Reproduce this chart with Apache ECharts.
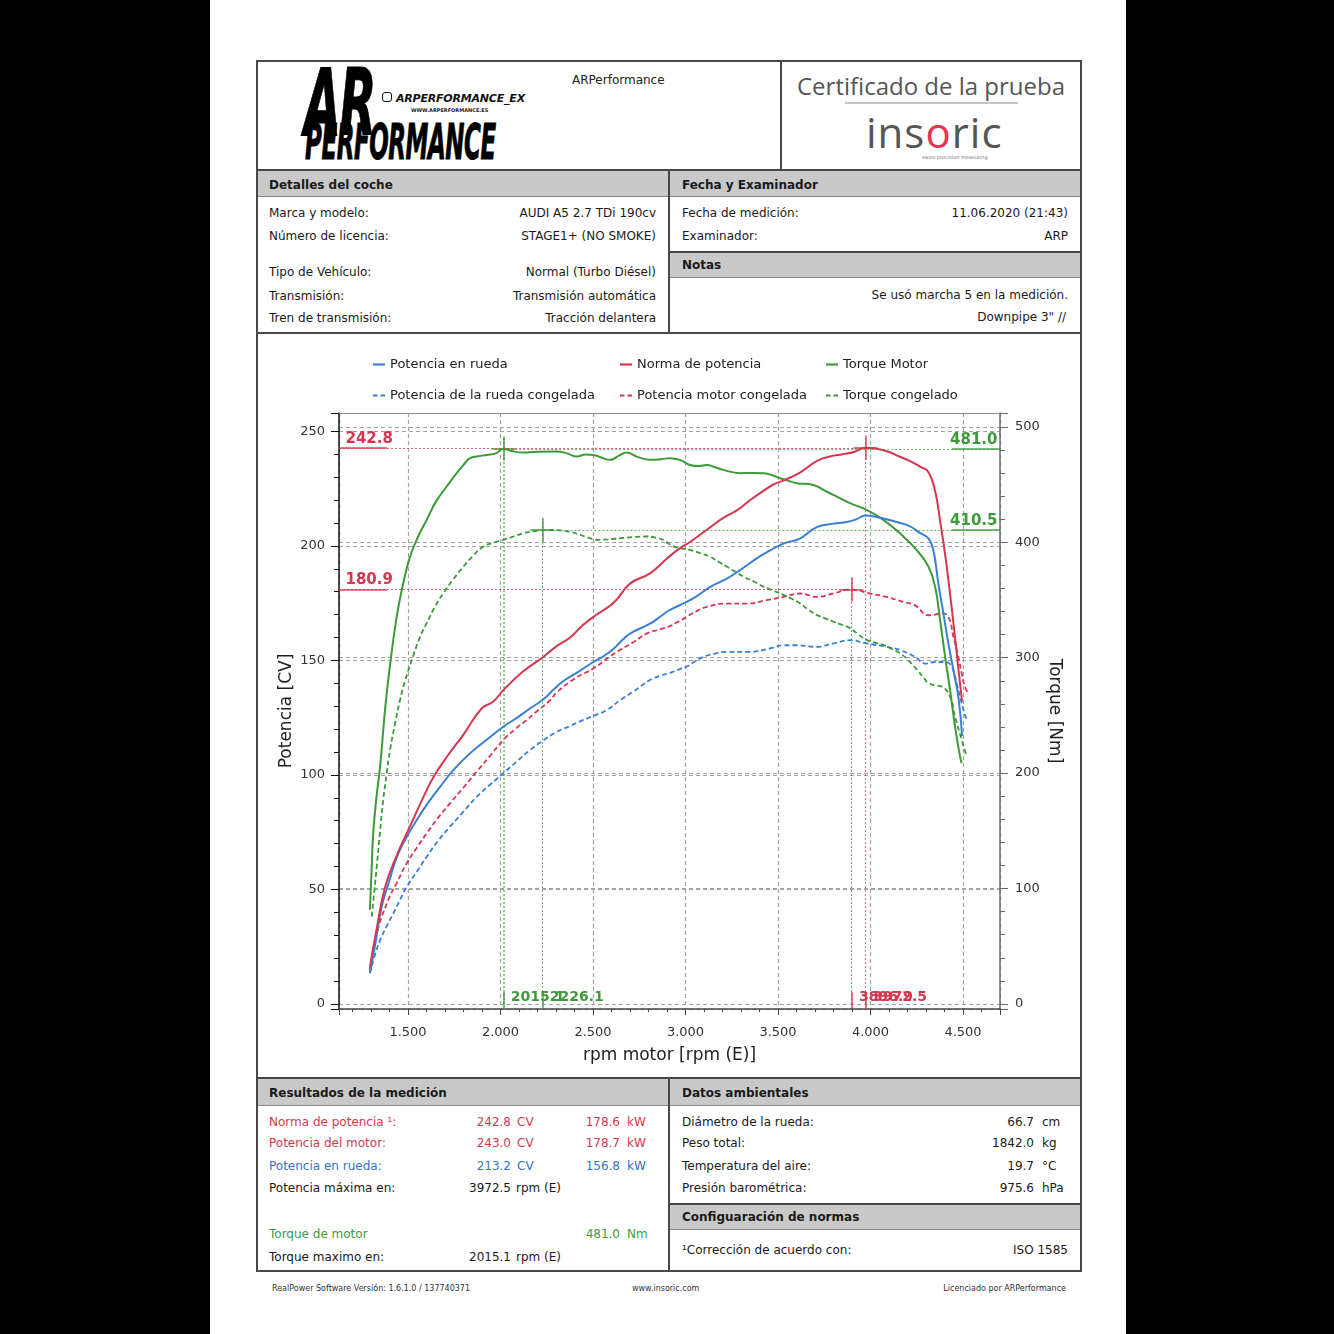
<!DOCTYPE html>
<html><head><meta charset="utf-8">
<script src="https://cdn.jsdelivr.net/npm/echarts@6/dist/echarts.min.js"></script>
<style>
html,body{margin:0;padding:0;}
body{width:1334px;height:1334px;background:#000;position:relative;overflow:hidden;font-family:"DejaVu Sans",Verdana,sans-serif;}
#page{position:absolute;left:210px;top:0;width:916px;height:1334px;background:#fff;}
.t{position:absolute;white-space:nowrap;font-size:12px;line-height:16px;color:#1a1a1a;}
.r{position:absolute;}
#chart{position:absolute;left:0;top:0;width:1334px;height:1334px;}
</style>
</head><body>
<div id="page"></div>
<div id="chart"></div>
<script>
// ---------------- DATA ----------------
const seriesNames = ['Potencia en rueda','Norma de potencia','Torque Motor','Potencia de la rueda congelada','Potencia motor congelada','Torque congelado'];
// [rpm, CV]
const wheelPower = [[1294,13.4],[1325,27],[1358,42.5],[1400,54],[1439,64],[1490,72.5],[1547,80.3],[1610,88],[1673,94.8],[1750,102.5],[1835,109.4],[1920,115],[2015,121],[2090,125],[2159,129],[2232,133],[2290,137.5],[2340,141],[2420,145],[2502,149.3],[2560,152],[2610,155],[2660,159],[2700,161.7],[2808,166],[2870,169.5],[2916,172],[3006,175.5],[3070,178.5],[3132,182],[3223,185.7],[3295,189.4],[3385,194.5],[3457,198],[3529,201],[3619,203.2],[3709,208.2],[3799,209.7],[3871,210.4],[3920,211.5],[3972.5,213.2],[4033,212.6],[4090,211.5],[4141,210.4],[4214,208.5],[4260,206],[4313,203.3],[4340,198],[4367,183.5],[4394,170.5],[4421,157.4],[4448,145.8],[4475,134],[4495,117]];
const normPower = [[1294,16],[1331,33],[1376,51],[1440,65],[1502,76],[1570,88],[1637,99],[1720,109],[1799,117.5],[1898,129],[1961,132],[2015,137],[2120,145],[2231,151.5],[2300,156],[2376,160],[2440,165],[2502,169],[2610,175],[2700,183.5],[2808,188],[2900,194.5],[2970,199],[3024,201.7],[3132,208],[3200,212],[3277,215.5],[3350,220],[3421,224],[3480,227],[3529,228.5],[3619,232],[3709,237],[3781,239],[3850,240],[3910,241],[3972.5,242.8],[4033,242.4],[4100,241],[4141,239.5],[4214,237],[4270,234.5],[4311,232.5],[4349,224],[4376,211],[4403,196.5],[4430,179],[4457,160],[4475,146.5],[4495,132]];
// [rpm, Nm]
const engineTorque = [[1294,81.5],[1303,115],[1312,148],[1330,180],[1349,205.6],[1376,255],[1400,290],[1439,335.6],[1475,365],[1511,387.6],[1555,405],[1601,419.4],[1650,435],[1709,448.3],[1763,460],[1800,467],[1835,473],[1880,474.5],[1925,475.7],[1975,477],[2015.1,481],[2060,479],[2123,477.7],[2200,478.5],[2304,478.6],[2360,477],[2412,474.3],[2460,476],[2502,475.7],[2550,473],[2592,471.4],[2640,475],[2682,477.7],[2740,474],[2808,471.4],[2870,472],[2916,472.9],[2970,471.4],[3024,467],[3070,466],[3115,467],[3160,465],[3204,462.7],[3295,459.9],[3360,460],[3421,459.9],[3470,458],[3511,455.5],[3560,453],[3601,451.2],[3691,449.7],[3750,445],[3799,441],[3889,433.9],[3979,428],[4069,419.4],[4159,407.9],[4249,393.4],[4313,379],[4349,361.6],[4376,332.8],[4403,301],[4430,272],[4457,240.3],[4484,214.3],[4493,208.6]];
const wheelPowerFrozen = [[1294,13.5],[1320,21],[1349,27.9],[1385,34],[1421,39.6],[1460,46],[1493,51.2],[1550,58],[1601,64.3],[1660,71],[1727,77.4],[1800,84],[1871,90.4],[1940,95.5],[2015,100.7],[2090,106],[2159,110.8],[2230,115],[2304,118.8],[2380,121.5],[2448,124],[2510,126],[2574,128.3],[2646,132.6],[2720,136.5],[2808,141.4],[2870,143.5],[2916,144.5],[2970,146.2],[3006,147.2],[3050,149.5],[3096,151.5],[3160,153],[3223,153.7],[3349,153.7],[3457,155.2],[3529,156.6],[3601,156.6],[3709,155.9],[3799,157.4],[3889,158.8],[3979,157.4],[4088,155.9],[4160,154.5],[4241,151.5],[4295,148.6],[4349,149.3],[4403,149.3],[4439,147.2],[4466,139.9],[4493,131.2],[4520,123.9]];
const enginePowerFrozen = [[1294,14.8],[1331,30.8],[1393,45.4],[1440,53],[1493,61.4],[1550,68.5],[1601,74.5],[1660,81],[1727,87.6],[1800,94.5],[1871,101.4],[1940,108],[2015,115.2],[2080,120],[2142,124],[2200,128],[2268,132.6],[2304,136],[2400,142],[2502,146.5],[2580,151],[2646,154.5],[2720,158],[2790,161.7],[2860,163.5],[2916,165],[2952,166.5],[3006,169],[3060,171.5],[3115,173.4],[3223,174.8],[3331,174.8],[3439,176.3],[3529,177.7],[3619,179.2],[3709,177.7],[3799,179.2],[3896.9,180.9],[3997,179.2],[4088,177.7],[4177,175.5],[4241,174],[4313,169.7],[4350,170],[4385,170.5],[4421,169],[4448,160.3],[4475,151.5],[4493,144.3],[4511,138.4],[4529,135.6]];
const torqueFrozen = [[1304,75.7],[1318,98],[1331,119],[1348,148],[1366,176.8],[1385,200],[1403,220.1],[1430,243],[1457,263.4],[1484,280],[1529,302],[1565,318],[1601,329.9],[1645,344],[1691,355.9],[1745,368],[1799,378.9],[1850,388],[1907,396.3],[1960,399.5],[2015,402.1],[2070,405],[2123,407.9],[2180,409.5],[2226.1,410.5],[2290,410.5],[2340,410],[2390,408.5],[2430,406.4],[2475,404],[2520,402.1],[2580,402.5],[2646,403.5],[2720,404.5],[2790,405],[2840,404],[2880,402.1],[2916,398],[2952,395.5],[3024,393.4],[3080,390.5],[3132,387.6],[3180,383],[3223,379],[3270,374.5],[3312,370.3],[3370,366],[3421,361.6],[3475,358],[3529,354.4],[3575,351],[3619,347.2],[3660,342],[3709,337.1],[3755,334],[3799,331.3],[3845,328.5],[3889,325.6],[3935,320],[3979,315.4],[4025,313],[4069,311.1],[4110,308],[4159,303.9],[4200,298.5],[4249,290],[4290,282],[4313,278],[4350,276],[4385,275],[4430,266.3],[4457,249],[4493,228.8],[4520,214.3]];
// peaks [rpm, value]
const powerPeak = [3972.5, 242.8];
const powerPeakFrozen = [3896.9, 180.9];
const torquePeak = [2015.1, 481.0];
const torquePeakFrozen = [2226.1, 410.5];
// axis ranges
const X_MIN = 1127, X_MAX = 4700, X_STEP = 500;
const P_MIN = -2.2, P_MAX = 258, P_STEP = 50;
const T_MIN = -4.4, T_MAX = 512, T_STEP = 100;

// ---------------- PAGE ----------------
const FONT = '"DejaVu Sans", Verdana, sans-serif';
const RED = '#d6364f', BLUE = '#3a7fd5', GREEN = '#3c9a3a';
const TRED = '#cf3a50', TBLUE = '#2f74c9', TGREEN = '#3f993f';
function R(x, y, w, h, bg) { const d = document.createElement('div'); d.className = 'r';
  Object.assign(d.style, {left:x+'px', top:y+'px', width:w+'px', height:h+'px', background:bg}); document.body.insertBefore(d, document.getElementById('chart')); return d; }
function T(txt, x, cy, o) { o = o || {}; const d = document.createElement('div'); d.className = 't'; d.textContent = txt;
  const size = o.size || 12, lh = Math.round(size * 1.35);
  d.style.fontSize = size + 'px'; d.style.lineHeight = lh + 'px'; d.style.top = (cy - lh / 2) + 'px';
  if (o.right) d.style.right = (1334 - x) + 'px'; else d.style.left = x + 'px';
  if (o.color) d.style.color = o.color; if (o.bold) d.style.fontWeight = 'bold';
  if (o.font) d.style.fontFamily = o.font; if (o.css) Object.assign(d.style, o.css);
  document.body.insertBefore(d, document.getElementById('chart')); return d; }

const LINE = '#474747', BAND = '#c9c9c9';
// outer frame
R(256, 60, 826, 2, LINE); R(256, 1270, 826, 2, LINE); R(256, 60, 2, 1212, LINE); R(1080, 60, 2, 1212, LINE);
// header
R(256, 169, 826, 2, LINE); R(780, 60, 2, 110, LINE);
// detail bands
R(258, 171, 410, 25, BAND); R(670, 171, 410, 25, BAND); R(258, 196, 822, 1, '#8a8a8a');
R(668, 170, 2, 163, LINE);
R(670, 251, 410, 2, LINE); R(670, 253, 410, 24, BAND); R(670, 277, 410, 1, '#8a8a8a');
R(256, 332, 826, 2, LINE);
R(256, 1077, 826, 2, LINE);
R(258, 1079, 410, 26, BAND); R(670, 1079, 410, 26, BAND); R(258, 1105, 822, 1, '#8a8a8a');
R(668, 1078, 2, 193, LINE);
R(670, 1203, 410, 2, LINE); R(670, 1205, 410, 24, BAND); R(670, 1229, 410, 1, '#8a8a8a');

// logo
T('AR', 304, 104, {size:92, bold:true, color:'#000', css:{fontStyle:'italic', transform:'scaleX(0.52)', transformOrigin:'left center', letterSpacing:'-3px', WebkitTextStroke:'1px #000'}});
T('PERFORMANCE', 305, 142, {size:50, bold:true, color:'#000', css:{fontStyle:'italic', transform:'scaleX(0.46)', transformOrigin:'left center', letterSpacing:'-1px', WebkitTextStroke:'1px #000'}});
const ig = R(382, 92, 10, 10, 'transparent'); ig.style.border = '1.5px solid #111'; ig.style.borderRadius = '3px'; ig.style.boxSizing = 'border-box';
T('ARPERFORMANCE_EX', 396, 98, {size:11, bold:true, color:'#111', css:{fontStyle:'italic', letterSpacing:'-0.2px'}});
T('WWW.ARPERFORMANCE.ES', 411, 110, {size:5, bold:true, color:'#222'});
T('ARPerformance', 572, 80, {size:12, color:'#222'});
// certificate title + insoric
T('Certificado de la prueba', 797, 86, {size:24, color:'#555', font:'"Open Sans","Noto Sans",sans-serif'});
R(845, 102, 173, 2, '#c4c4c4');
const ins = T('', 866, 131, {size:42, color:'#555', font:'"Open Sans","Noto Sans",sans-serif', css:{letterSpacing:'1px'}});
ins.innerHTML = 'ins<span style="color:#e8344e">o</span>ric';
T('swiss precision measuring', 922, 157, {size:5, color:'#777'});

// details
T('Detalles del coche', 269, 185, {bold:true});
T('Fecha y Examinador', 682, 185, {bold:true});
const leftRows = [['Marca y modelo:', 'AUDI A5 2.7 TDi 190cv', 213], ['Número de licencia:', 'STAGE1+ (NO SMOKE)', 236],
  ['Tipo de Vehículo:', 'Normal (Turbo Diésel)', 272], ['Transmisión:', 'Transmisión automática', 296], ['Tren de transmisión:', 'Tracción delantera', 318]];
leftRows.forEach(r => { T(r[0], 269, r[2]); T(r[1], 656, r[2], {right:true}); });
T('Fecha de medición:', 682, 213); T('11.06.2020 (21:43)', 1068, 213, {right:true});
T('Examinador:', 682, 236); T('ARP', 1068, 236, {right:true});
T('Notas', 682, 265, {bold:true});
T('Se usó marcha 5 en la medición.', 1068, 295, {right:true});
T('Downpipe 3" //', 1066, 317, {right:true});

// results
T('Resultados de la medición', 269, 1093, {bold:true});
T('Datos ambientales', 682, 1093, {bold:true});
const res = [['Norma de potencia ¹:', '242.8', '178.6', TRED, 1122], ['Potencia del motor:', '243.0', '178.7', TRED, 1143], ['Potencia en rueda:', '213.2', '156.8', TBLUE, 1166]];
res.forEach(r => { T(r[0], 269, r[4], {color:r[3]}); T(r[1], 511, r[4], {right:true, color:r[3]}); T('CV', 517, r[4], {color:r[3]});
  T(r[2], 620, r[4], {right:true, color:r[3]}); T('kW', 627, r[4], {color:r[3]}); });
T('Potencia máxima en:', 269, 1188); T('3972.5', 511, 1188, {right:true}); T('rpm (E)', 516, 1188);
T('Torque de motor', 269, 1234, {color:TGREEN}); T('481.0', 620, 1234, {right:true, color:TGREEN}); T('Nm', 627, 1234, {color:TGREEN});
T('Torque maximo en:', 269, 1257); T('2015.1', 511, 1257, {right:true}); T('rpm (E)', 516, 1257);
const env = [['Diámetro de la rueda:', '66.7', 'cm', 1122], ['Peso total:', '1842.0', 'kg', 1143], ['Temperatura del aire:', '19.7', '°C', 1166], ['Presión barométrica:', '975.6', 'hPa', 1188]];
env.forEach(r => { T(r[0], 682, r[3]); T(r[1], 1034, r[3], {right:true}); T(r[2], 1042, r[3]); });
T('Configuaración de normas', 682, 1217, {bold:true});
T('¹Corrección de acuerdo con:', 682, 1250); T('ISO 1585', 1068, 1250, {right:true});
// footer
T('RealPower Software Versión: 1.6.1.0 / 137740371', 272, 1288, {size:8, color:'#333'});
T('www.insoric.com', 632, 1288, {size:8, color:'#333'});
T('Licenciado por ARPerformance', 1066, 1288, {size:8, color:'#333', right:true});

// ---------------- CHART ----------------
const GRID = {left:339, top:413, width:661, height:596};
const fmtRpm = v => (Math.abs(v % X_STEP) < 1e-6 ? String(v).replace(/\B(?=(\d{3})+(?!\d))/g, '.') : '');
const ICON_SOLID = 'path://M0,0H12V2.2H0Z';
const ICON_DASH = 'path://M0,0H4.5V2.2H0Z M7.5,0H12V2.2H7.5Z';

function peakMarks(peak, side, color, axMin, axMax, strong) {
  const rpmPerPx = (X_MAX - X_MIN) / GRID.width;
  const valPerPx = (axMax - axMin) / GRID.height;
  const dx = 12 * rpmPerPx, dy = 12 * valPerPx;
  const px = peak[0], py = peak[1];
  const dotted = {color, width:1, type:[2, 2], opacity:0.75};
  const vdotted = strong ? {color, width:1.6, type:[2, 2], opacity:0.7} : dotted;
  const solid = {color, width:1.5, type:'solid', opacity:0.9};
  const h = side === 'left' ? [X_MIN, px] : [px, X_MAX];
  const ul = 48 * rpmPerPx;
  const u = side === 'left' ? [X_MIN, X_MIN + ul] : [X_MAX - ul, X_MAX];
  return {
    markLine: {silent:true, symbol:['none', 'none'], label:{show:false}, animation:false, emphasis:{disabled:true},
      data: [
        [{coord:[h[0], py], lineStyle:dotted}, {coord:[h[1], py]}],
        [{coord:[px - dx, py], lineStyle:solid}, {coord:[px + dx, py]}],
        [{coord:[px, 0], lineStyle:vdotted}, {coord:[px, py + dy]}],
        [{coord:[px, py - dy], lineStyle:solid}, {coord:[px, py + dy]}],
        [{coord:[u[0], py], lineStyle:solid}, {coord:[u[1], py]}],
        [{coord:[px, axMin], lineStyle:solid}, {coord:[px, 12 * valPerPx]}]
      ]},
    markPoint: {silent:true, symbol:'rect', symbolSize:1, itemStyle:{color:'rgba(0,0,0,0)'}, animation:false,
      label:{show:true, color, fontFamily:FONT, fontWeight:'bold', fontSize:15},
      data: [
        {coord:[side === 'left' ? X_MIN : X_MAX, py],
          label:{position: side === 'left' ? 'right' : 'left', distance:5, offset:[side === 'left' ? 1 : 3, -9], formatter: py.toFixed(1)}},
        {coord:[px, 0], label:{position:'right', distance:5, offset:[2, -7], fontSize:14, formatter: px.toFixed(1)}}
      ]}
  };
}

function line(name, data, color, dashed, yAxisIndex, extra) {
  return Object.assign({
    name, type:'line', data, yAxisIndex, showSymbol:false, symbol:'none', smooth:0.45,
    lineStyle:{color, width: dashed ? 1.8 : 2, type: dashed ? [5, 3] : 'solid'}, itemStyle:{color},
    silent:true, z: dashed ? 2 : 3
  }, extra || {});
}

const axisText = {color:'#333', fontSize:13, fontFamily:FONT};
const nameText = {color:'#222', fontSize:17, fontFamily:FONT};
const gridLine = {show:true, lineStyle:{color:'#a3a3a3', width:1.2, type:[4, 3]}};

const chart = echarts.init(document.getElementById('chart'), null, {renderer:'canvas'});
chart.setOption({
  animation:false,
  backgroundColor:'transparent',
  textStyle:{fontFamily:FONT},
  grid:{left:GRID.left, top:GRID.top, width:GRID.width, height:GRID.height, containLabel:false},
  legend: [
    {data:[{name:seriesNames[0], icon:ICON_SOLID}, {name:seriesNames[3], icon:ICON_DASH}], left:373},
    {data:[{name:seriesNames[1], icon:ICON_SOLID}, {name:seriesNames[4], icon:ICON_DASH}], left:620},
    {data:[{name:seriesNames[2], icon:ICON_SOLID}, {name:seriesNames[5], icon:ICON_DASH}], left:826}
  ].map(l => Object.assign(l, {orient:'vertical', top:358, itemWidth:12, itemHeight:14, itemGap:18, selectedMode:false,
      textStyle:{color:'#222', fontSize:13, fontFamily:FONT}, padding:0})),
  xAxis: [{
    type:'value', min:X_MIN, max:X_MAX, minInterval:X_STEP, maxInterval:X_STEP, splitNumber:7,
    axisLine:{show:true, onZero:false, lineStyle:{color:'#444', width:1.5}},
    axisTick:{show:true, length:6, lineStyle:{color:'#444'}},
    minorTick:{show:true, splitNumber:5, length:3, lineStyle:{color:'#444'}},
    splitLine:gridLine,
    axisLabel:Object.assign({formatter:fmtRpm, margin:17}, axisText),
    name:'rpm motor [rpm (E)]', nameLocation:'middle', nameGap:38, nameTextStyle:nameText
  }, {
    type:'value', position:'top', min:X_MIN, max:X_MAX,
    axisLine:{show:true, onZero:false, lineStyle:{color:'#8a8a8a', width:1.2}}, axisTick:{show:false}, axisLabel:{show:false}, splitLine:{show:false}
  }],
  yAxis: [{
    type:'value', position:'left', min:P_MIN, max:P_MAX, minInterval:P_STEP, maxInterval:P_STEP, splitNumber:5,
    axisLine:{show:true, onZero:false, lineStyle:{color:'#111', width:1.5}},
    axisTick:{show:true, length:8, lineStyle:{color:'#111'}},
    minorTick:{show:true, splitNumber:5, length:5, lineStyle:{color:'#111'}},
    splitLine:gridLine,
    axisLabel:Object.assign({formatter: v => (Math.abs(v % P_STEP) < 1e-6 ? String(v) : ''), margin:14}, axisText),
    name:'Potencia [CV]', nameLocation:'middle', nameGap:44, nameRotate:90, nameTextStyle:nameText
  }, {
    type:'value', position:'right', min:T_MIN, max:T_MAX, minInterval:T_STEP, maxInterval:T_STEP, splitNumber:5,
    axisLine:{show:true, onZero:false, lineStyle:{color:'#6a6a6a', width:1.5}},
    axisTick:{show:true, length:8, lineStyle:{color:'#6a6a6a'}},
    minorTick:{show:true, splitNumber:5, length:5, lineStyle:{color:'#6a6a6a'}},
    splitLine:gridLine,
    axisLabel:Object.assign({formatter: v => (Math.abs(v % T_STEP) < 1e-6 ? String(v) : ''), margin:15}, axisText),
    name:'Torque [Nm]', nameLocation:'middle', nameGap:46, nameRotate:-90, nameTextStyle:nameText
  }],
  series: [
    line(seriesNames[3], wheelPowerFrozen, BLUE, true, 0),
    line(seriesNames[4], enginePowerFrozen, RED, true, 0, peakMarks(powerPeakFrozen, 'left', RED, P_MIN, P_MAX, false)),
    line(seriesNames[5], torqueFrozen, GREEN, true, 1, peakMarks(torquePeakFrozen, 'right', GREEN, T_MIN, T_MAX, false)),
    line(seriesNames[2], engineTorque, GREEN, false, 1, peakMarks(torquePeak, 'right', GREEN, T_MIN, T_MAX, true)),
    line(seriesNames[0], wheelPower, BLUE, false, 0),
    line(seriesNames[1], normPower, RED, false, 0, peakMarks(powerPeak, 'left', RED, P_MIN, P_MAX, false))
  ]
});
</script>
</body></html>
